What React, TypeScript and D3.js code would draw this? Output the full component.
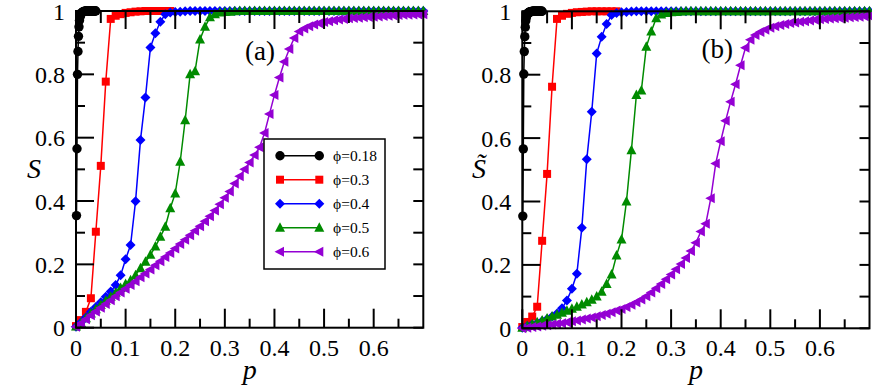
import React from 'react';
import * as d3 from 'd3';

// ---------- data ----------
const P_FINE = d3.range(1, 41).map((i) => i / 1000); // 0.001 .. 0.040
const P_GRID = d3.range(0, 71).map((i) => i / 100); // 0 .. 0.70

const X_MAJOR = [0, 0.1, 0.2, 0.3, 0.4, 0.5, 0.6];
const X_MINOR = [0.05, 0.15, 0.25, 0.35, 0.45, 0.55, 0.65];
const Y_MAJOR = [0, 0.2, 0.4, 0.6, 0.8, 1];
const Y_MINOR = [0.1, 0.3, 0.5, 0.7, 0.9];
const X_LABELS = ['0', '0.1', '0.2', '0.3', '0.4', '0.5', '0.6'];
const Y_LABELS = ['0', '0.2', '0.4', '0.6', '0.8', '1'];

const PHI = ['ϕ=0.18', 'ϕ=0.3', 'ϕ=0.4', 'ϕ=0.5', 'ϕ=0.6'];
const COLORS = ['#000000', '#ff0000', '#0000ff', '#008b00', '#9400d3'];
const MARKERS = ['circle', 'square', 'diamond', 'triUp', 'triLeft'];

// panel (a): S
const A_BLACK = [0.354, 0.565, 0.8, 0.872, 0.92, 0.95, 0.97, 0.98, 0.986, 0.99, 0.993, 0.995, 0.996, 0.997, 0.998, 0.998, 0.999, 0.999, 0.999, 1, 1, 1, 1, 1, 1, 1, 1, 1, 1, 1, 1, 1, 1, 1, 1, 1, 1, 1, 1, 1];
const A_RED = [0.005, 0.024, 0.05, 0.093, 0.303, 0.511, 0.777, 0.975, 0.985, 0.99, 0.994, 0.996, 0.998, 0.999, 1, 1, 1, 1, 1, 1];
const A_BLUE = [0.003, 0.017, 0.033, 0.05, 0.065, 0.08, 0.098, 0.114, 0.135, 0.166, 0.216, 0.261, 0.399, 0.593, 0.727, 0.885, 0.93, 0.966, 0.99, 0.995, 0.997, 0.998, 0.999,
  1, 1, 1, 1, 1, 1, 1, 1, 1, 1, 1, 1, 1, 1, 1, 1, 1, 1, 1, 1, 1, 1, 1, 1, 1, 1, 1, 1, 1, 1, 1, 1, 1, 1, 1, 1, 1, 1, 1, 1, 1, 1, 1, 1, 1, 1, 1, 1];
const A_GREEN = [0.004, 0.015, 0.03, 0.045, 0.058, 0.072, 0.085, 0.098, 0.11, 0.125, 0.138, 0.15, 0.166, 0.188, 0.208, 0.23, 0.256, 0.287, 0.319, 0.377, 0.424, 0.524, 0.655, 0.8, 0.81, 0.91, 0.95, 0.98, 0.99, 0.995, 0.997, 0.998, 0.999,
  1, 1, 1, 1, 1, 1, 1, 1, 1, 1, 1, 1, 1, 1, 1, 1, 1, 1, 1, 1, 1, 1, 1, 1, 1, 1, 1, 1, 1, 1, 1, 1, 1, 1, 1, 1, 1, 1];
const A_PURPLE = [0.003, 0.014, 0.027, 0.039, 0.051, 0.063, 0.075, 0.087, 0.099, 0.111, 0.123, 0.135, 0.147, 0.159, 0.171, 0.184, 0.197, 0.21, 0.223, 0.236,
  0.25, 0.264, 0.278, 0.292, 0.306, 0.32, 0.336, 0.352, 0.37, 0.39, 0.41, 0.43, 0.455, 0.478, 0.5, 0.522, 0.545, 0.57, 0.615, 0.675,
  0.735, 0.79, 0.84, 0.88, 0.915, 0.935, 0.945, 0.952, 0.957, 0.961, 0.965, 0.968, 0.971, 0.973, 0.975, 0.977, 0.978, 0.979, 0.98, 0.981,
  0.982, 0.983, 0.984, 0.985, 0.986, 0.987, 0.988, 0.988, 0.989, 0.989, 0.99];

// panel (b): S tilde
const B_BLACK = [0.354, 0.566, 0.802, 0.873, 0.92, 0.95, 0.97, 0.98, 0.986, 0.99, 0.993, 0.995, 0.996, 0.997, 0.998, 0.998, 0.999, 0.999, 0.999, 1, 1, 1, 1, 1, 1, 1, 1, 1, 1, 1, 1, 1, 1, 1, 1, 1, 1, 1, 1, 1];
const B_RED = [0.004, 0.02, 0.037, 0.068, 0.276, 0.487, 0.762, 0.976, 0.986, 0.992, 0.995, 0.997, 0.998, 0.999, 1, 1, 1, 1, 1, 1];
const B_BLUE = [0.002, 0.007, 0.012, 0.017, 0.023, 0.029, 0.037, 0.047, 0.063, 0.088, 0.125, 0.172, 0.317, 0.533, 0.683, 0.867, 0.92, 0.96, 0.988, 0.995, 0.997, 0.998, 0.999,
  1, 1, 1, 1, 1, 1, 1, 1, 1, 1, 1, 1, 1, 1, 1, 1, 1, 1, 1, 1, 1, 1, 1, 1, 1, 1, 1, 1, 1, 1, 1, 1, 1, 1, 1, 1, 1, 1, 1, 1, 1, 1, 1, 1, 1, 1, 1, 1];
const B_GREEN = [0.002, 0.007, 0.013, 0.019, 0.025, 0.031, 0.037, 0.043, 0.049, 0.055, 0.062, 0.068, 0.075, 0.082, 0.09, 0.1, 0.115, 0.14, 0.17, 0.23, 0.28, 0.4, 0.562, 0.736, 0.75, 0.888, 0.936, 0.978, 0.99, 0.995, 0.997, 0.998, 0.999,
  1, 1, 1, 1, 1, 1, 1, 1, 1, 1, 1, 1, 1, 1, 1, 1, 1, 1, 1, 1, 1, 1, 1, 1, 1, 1, 1, 1, 1, 1, 1, 1, 1, 1, 1, 1, 1, 1];
const B_PURPLE = [0, 0.002, 0.004, 0.006, 0.008, 0.01, 0.012, 0.014, 0.016, 0.019, 0.022, 0.025, 0.028, 0.031, 0.034, 0.038, 0.042, 0.046, 0.051, 0.056,
  0.061, 0.067, 0.074, 0.082, 0.091, 0.101, 0.113, 0.126, 0.14, 0.155, 0.17, 0.186, 0.203, 0.222, 0.244, 0.27, 0.305, 0.33, 0.41, 0.52,
  0.59, 0.655, 0.715, 0.77, 0.83, 0.885, 0.91, 0.925, 0.935, 0.942, 0.948, 0.953, 0.957, 0.96, 0.963, 0.965, 0.967, 0.969, 0.971, 0.973,
  0.975, 0.976, 0.977, 0.978, 0.979, 0.98, 0.981, 0.982, 0.983, 0.984, 0.985];

const SERIES_A = [A_BLACK, A_RED, A_BLUE, A_GREEN, A_PURPLE];
const SERIES_B = [B_BLACK, B_RED, B_BLUE, B_GREEN, B_PURPLE];
const P_FOR = [P_FINE, P_GRID, P_GRID, P_GRID, P_GRID];

const FONT = "'Liberation Serif', 'Times New Roman', serif";

function markerPath(type: string): string {
  switch (type) {
    case 'circle':
      return 'M4.7,0A4.7,4.7 0 1,1 -4.7,0A4.7,4.7 0 1,1 4.7,0Z';
    case 'square':
      return 'M-4,-4H4V4H-4Z';
    case 'diamond':
      return 'M0,-5L5,0L0,5L-5,0Z';
    case 'triUp':
      return 'M0,-5.5L5,4L-5,4Z';
    case 'triLeft':
      return 'M-5.5,0L4,-5L4,5Z';
  }
  return '';
}

type PanelProps = {
  xr: [number, number];
  yr: [number, number];
  data: number[][];
  tag: string;
  tagX: number;
  tagY: number;
  ylab: string;
  ylabX: number;
  legend: boolean;
};

function Panel({ xr, yr, data, tag, tagX, tagY, ylab, ylabX, legend }: PanelProps) {
  const x = d3.scaleLinear().domain([0, 0.7]).range(xr);
  const y = d3.scaleLinear().domain([0, 1]).range(yr);
  const line = d3.line<[number, number]>().x((d) => x(d[0])).y((d) => y(d[1]));
  const [L, R] = xr;
  const [B, T] = yr;

  return (
    <g>
      {data.map((vals, si) => {
        const pts: [number, number][] = vals.map((s, i) => [P_FOR[si][i], s]);
        return (
          <g key={si}>
            <path d={line(pts) || ''} fill="none" stroke={COLORS[si]} strokeWidth={1.5} />
            {pts.map((d, i) => (
              <path key={i} d={markerPath(MARKERS[si])} transform={`translate(${x(d[0])},${y(d[1])})`} fill={COLORS[si]} />
            ))}
          </g>
        );
      })}
      {/* frame */}
      <rect x={L} y={T} width={R - L} height={B - T} fill="none" stroke="#000" strokeWidth={2} />
      {/* x ticks */}
      {X_MAJOR.map((v) => (
        <g key={'xm' + v}>
          <line x1={x(v)} x2={x(v)} y1={B} y2={B - 19} stroke="#000" strokeWidth={2} />
          <line x1={x(v)} x2={x(v)} y1={T} y2={T + 18} stroke="#000" strokeWidth={2} />
        </g>
      ))}
      {X_MINOR.map((v) => (
        <g key={'xn' + v}>
          <line x1={x(v)} x2={x(v)} y1={B} y2={B - 9} stroke="#000" strokeWidth={2} />
          <line x1={x(v)} x2={x(v)} y1={T} y2={T + 12} stroke="#000" strokeWidth={2} />
        </g>
      ))}
      {Y_MAJOR.map((v) => (
        <g key={'ym' + v}>
          <line x1={L} x2={L + 18} y1={y(v)} y2={y(v)} stroke="#000" strokeWidth={2} />
          <line x1={R} x2={R - 10} y1={y(v)} y2={y(v)} stroke="#000" strokeWidth={2} />
        </g>
      ))}
      {Y_MINOR.map((v) => (
        <g key={'yn' + v}>
          <line x1={L} x2={L + 9} y1={y(v)} y2={y(v)} stroke="#000" strokeWidth={2} />
          <line x1={R} x2={R - 10} y1={y(v)} y2={y(v)} stroke="#000" strokeWidth={2} />
        </g>
      ))}
      {/* tick labels */}
      {X_MAJOR.map((v, i) => (
        <text key={'xl' + v} x={x(v)} y={B + 28} textAnchor="middle" fontFamily={FONT} fontSize={24}>
          {X_LABELS[i]}
        </text>
      ))}
      {Y_MAJOR.map((v, i) => (
        <text key={'yl' + v} x={L - 11} y={y(v) + 8.5} textAnchor="end" fontFamily={FONT} fontSize={24}>
          {Y_LABELS[i]}
        </text>
      ))}
      {/* axis titles */}
      <text x={(L + R) / 2} y={379} textAnchor="middle" fontFamily={FONT} fontStyle="italic" fontSize={28}>
        p
      </text>
      <text x={ylabX} y={178} textAnchor="middle" fontFamily={FONT} fontStyle="italic" fontSize={28}>
        {ylab}
      </text>
      <text x={tagX} y={tagY} fontFamily={FONT} fontSize={27}>
        {tag}
      </text>
      {legend && (
        <g>
          <rect x={264} y={139} width={121} height={130} fill="#fff" stroke="#000" strokeWidth={1.5} />
          {PHI.map((lab, i) => {
            const ly = 155.7 + i * 24;
            return (
              <g key={lab}>
                <line x1={280} x2={319.3} y1={ly} y2={ly} stroke={COLORS[i]} strokeWidth={1.5} />
                <path d={markerPath(MARKERS[i])} transform={`translate(280,${ly})`} fill={COLORS[i]} />
                <path d={markerPath(MARKERS[i])} transform={`translate(319.3,${ly})`} fill={COLORS[i]} />
                <text x={333} y={ly + 5.5} fontFamily={FONT} fontSize={15.5}>
                  {lab}
                </text>
              </g>
            );
          })}
        </g>
      )}
    </g>
  );
}

export default function App() {
  return (
    <svg width={872} height={389} style={{ position: 'absolute', left: 0, top: 0 }}>
      <rect width={872} height={389} fill="#fff" />
      <Panel xr={[76, 423.3]} yr={[327.7, 11]} data={SERIES_A} tag="(a)" tagX={245} tagY={59.5} ylab="S" ylabX={34} legend={true} />
      <Panel xr={[522.3, 869.5]} yr={[328.3, 11.3]} data={SERIES_B} tag="(b)" tagX={701.5} tagY={58} ylab={'S\u0303'} ylabX={479} legend={false} />
    </svg>
  );
}
